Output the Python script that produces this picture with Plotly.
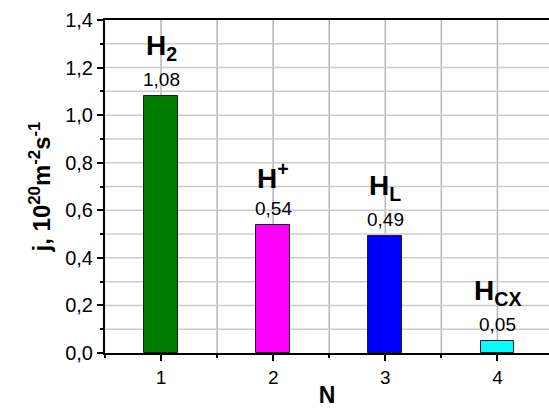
import plotly.graph_objects as go

categories = [1, 2, 3, 4]
values = [1.08, 0.54, 0.49, 0.05]
species = ["H<sub>2</sub>", "H<sup>+</sup>", "H<sub>L</sub>", "H<sub>CX</sub>"]
colors = ["#007c00", "#ff00ff", "#0000ff", "#00ffff"]
x_range = [0.5, 4.46]
y_max = 1.4
y_step = 0.2

FONT = "Liberation Sans, Arial, sans-serif"

fig = go.Figure()
fig.add_trace(go.Bar(
    x=categories, y=values, width=0.3,
    marker=dict(color=colors, line=dict(color="#1a1a1a", width=1)),
    showlegend=False,
))

# grid lines (every half step in N, every tenth in j), drawn beneath the bars
n_x = int(round((x_range[1] - x_range[0]) / 0.5))
for k in range(1, n_x + 1):
    gx = x_range[0] + 0.5 * k
    fig.add_shape(type="line", xref="x", yref="paper", x0=gx, x1=gx, y0=0, y1=1,
                  line=dict(color="#b4b4b4", width=1.5), layer="between")
n_y = int(round(y_max / (y_step / 2)))
for k in range(1, n_y):
    gy = k * y_step / 2
    fig.add_shape(type="line", xref="paper", yref="y", x0=0, x1=1, y0=gy, y1=gy,
                  line=dict(color="#cccccc", width=1.5), layer="between")

for c, v, s in zip(categories, values, species):
    fig.add_annotation(x=c, y=v, text=f"{v:.2f}".replace(".", ","),
                       showarrow=False, yanchor="bottom", yshift=4,
                       font=dict(family=FONT, size=19, color="black"))
    fig.add_annotation(x=c, y=v, text=f"<b>{s}</b>",
                       showarrow=False, yanchor="bottom", yshift=29,
                       font=dict(family=FONT, size=28, color="black"))

fig.update_layout(
    width=549, height=410,
    margin=dict(l=105, r=0, t=20, b=57),
    plot_bgcolor="white", paper_bgcolor="white",
    separators=",.",
    font=dict(family=FONT, color="black"),
    bargap=0,
)
fig.update_xaxes(
    range=x_range, tickmode="linear", tick0=0, dtick=1,
    ticks="outside", ticklen=6, tickwidth=1.5, tickcolor="black",
    tickfont=dict(size=19),
    showline=True, linecolor="black", linewidth=2, mirror=True,
    showgrid=False,
    minor=dict(dtick=0.5, ticks="outside", ticklen=3, tickcolor="black", showgrid=False),
    title=dict(text="<b>N</b>", font=dict(size=23), standoff=0),
    zeroline=False,
)
fig.update_yaxes(
    range=[0, y_max], tickmode="linear", tick0=0, dtick=y_step, tickformat=".1f",
    ticks="outside", ticklen=6, tickwidth=1.5, tickcolor="black",
    tickfont=dict(size=20),
    showline=True, linecolor="black", linewidth=2,
    showgrid=False,
    minor=dict(dtick=y_step / 2, ticks="outside", ticklen=3, tickcolor="black", showgrid=False),
    title=dict(text="<b>j, 10<sup>20</sup>m<sup>-2</sup>s<sup>-1</sup></b>", font=dict(size=24), standoff=8),
    zeroline=False,
)

fig.write_html("out.html", config={"displayModeBar": False},
               post_script="document.body.style.margin='0';document.body.style.overflow='hidden';")
